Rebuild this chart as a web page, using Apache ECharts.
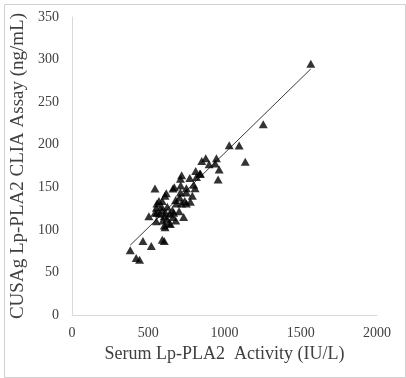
<!DOCTYPE html>
<html>
<head>
<meta charset="utf-8">
<script src="https://cdn.jsdelivr.net/npm/echarts@6/dist/echarts.min.js"></script>
<style>html,body{margin:0;padding:0;background:#fff}#c{width:406px;height:378px}</style>
</head>
<body>
<div id="c"></div>
<script>
var activityX = [1566,1254,1031,1096,1136,851,877,899,947,939,965,958,811,842,772,719,711,671,713,750,807,798,789,776,739,719,706,680,618,662,610,592,544,590,658,640,614,605,575,625,553,557,596,623,662,680,636,605,732,504,553,610,645,684,750,667,702,588,816,557,570,544,838,750,711,465,592,605,520,382,421,443];
var assayY = [295,224,199.5,199,180,181,184,177,184,178,171,159,169,166,161,164,160,150,152,149,149,153,140,133,134,131,138,135,143,148.5,140,134,148.5,123,123,119,120,116,119,127,126,120,111,113,115,111,108,105,115,116,110,103,107,131,131,120,122,127,162,131,134,120,166,144,144,87,88.5,87,81,76,67,65];
var trendX = [382, 1566];
var trendY = [82, 289];
var xTicks = [0, 500, 1000, 1500, 2000];
var yTicks = [0, 50, 100, 150, 200, 250, 300, 350];

var pts = activityX.map(function (x, i) { return [x, assayY[i]]; });
var line = trendX.map(function (x, i) { return [x, trendY[i]]; });

var chart = echarts.init(document.getElementById('c'), null, {renderer: 'canvas'});
var font = '"Liberation Serif", "Times New Roman", serif';
chart.setOption({
  animation: false,
  textStyle: {fontFamily: font},
  graphic: [{
    type: 'rect', left: 2, top: 2,
    shape: {width: 401, height: 373},
    style: {fill: 'none', stroke: '#d0d0d0', lineWidth: 1}
  }],
  grid: {left: 72, right: 29, top: 17, bottom: 63},
  xAxis: {
    type: 'value', min: xTicks[0], max: xTicks[xTicks.length - 1], interval: 500,
    name: 'Serum Lp-PLA2  Activity (IU/L)', nameLocation: 'middle', nameGap: 30,
    nameTextStyle: {fontFamily: font, fontSize: 18, color: '#404040'},
    axisLine: {show: true, lineStyle: {color: '#d9d9d9', width: 1}},
    axisTick: {show: false},
    splitLine: {show: false},
    axisLabel: {fontFamily: font, fontSize: 14, color: '#404040', margin: 11,
      formatter: function (v) { return String(v); }}
  },
  yAxis: {
    type: 'value', min: yTicks[0], max: yTicks[yTicks.length - 1], interval: 50,
    name: 'CUSAg Lp-PLA2 CLIA Assay (ng/mL)', nameLocation: 'middle', nameGap: 36,
    nameTextStyle: {fontFamily: font, fontSize: 19, color: '#404040'},
    axisLine: {show: true, lineStyle: {color: '#d9d9d9', width: 1}},
    axisTick: {show: false},
    splitLine: {show: false},
    axisLabel: {fontFamily: font, fontSize: 14, color: '#404040', margin: 13,
      formatter: function (v) { return String(v); }}
  },
  series: [{
    type: 'line', data: line, symbol: 'none',
    lineStyle: {color: '#3a3a3a', width: 1}, z: 1
  }, {
    type: 'scatter', data: pts, symbol: 'triangle', symbolSize: [9, 8],
    itemStyle: {color: '#000'}, z: 2
  }]
});
</script>
</body>
</html>
